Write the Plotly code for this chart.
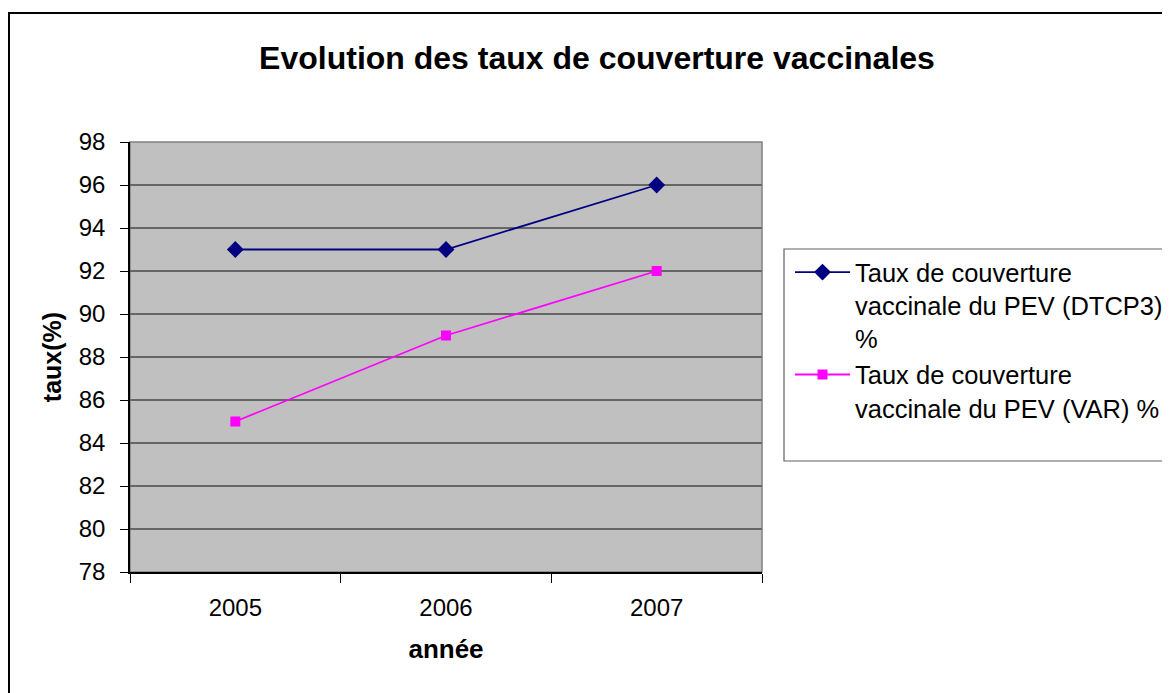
import plotly.graph_objects as go

# chart data
years = ["2005", "2006", "2007"]
dtcp3 = [93, 93, 96]
var = [85, 89, 92]
series_names = [
    "Taux de couverture<br>vaccinale du PEV (DTCP3)<br>%",
    "Taux de couverture<br>vaccinale du PEV (VAR) %",
]
y_ticks = list(range(78, 100, 2))

FONT = "Liberation Sans, Arial, sans-serif"

# the page body has an 8px margin, so work in window pixels minus that
OFF = 8
W, H = 1170 - OFF, 693 - OFF
L, R, T, B = 130 - OFF, 762 - OFF, 142 - OFF, 572 - OFF


def px_x(x):
    return (x - OFF - L) / (R - L)


def px_y(y):
    return (B - (y - OFF)) / (B - T)


fig = go.Figure()

fig.add_trace(go.Scatter(
    x=years, y=dtcp3, mode="lines+markers", name=series_names[0],
    line=dict(color="#000080", width=1.8),
    marker=dict(symbol="diamond", size=13, color="#000080"),
))
fig.add_trace(go.Scatter(
    x=years, y=var, mode="lines+markers", name=series_names[1],
    line=dict(color="#FF00FF", width=1.8),
    marker=dict(symbol="square", size=10, color="#FF00FF"),
))

shapes = [
    # plot area background and border
    dict(type="rect", xref="paper", yref="paper", x0=0, x1=1, y0=0, y1=1,
         fillcolor="#C0C0C0", line=dict(color="#808080", width=1.5), layer="below"),
    # outer chart frame
    dict(type="rect", xref="paper", yref="paper",
         x0=px_x(9), x1=px_x(1200), y0=px_y(13), y1=px_y(720),
         line=dict(color="black", width=2)),
    # legend frame
    dict(type="rect", xref="paper", yref="paper",
         x0=px_x(784), x1=px_x(1200), y0=px_y(249), y1=px_y(461),
         line=dict(color="#606060", width=1.2)),
]

fig.update_layout(
    width=W, height=H,
    margin=dict(l=L, r=W - R, t=T, b=H - B, autoexpand=False),
    paper_bgcolor="white",
    plot_bgcolor="rgba(0,0,0,0)",
    font=dict(family=FONT, size=24, color="black"),
    title=dict(
        text="<b>Evolution des taux de couverture vaccinales</b>",
        x=(597 - OFF) / W, xanchor="center", y=1 - (58 - OFF) / H, yanchor="middle",
        font=dict(size=32, family=FONT, color="black"),
    ),
    xaxis=dict(
        type="category", range=[-0.5, 2.5], tickson="boundaries",
        ticks="outside", ticklen=9, tickcolor="black", tickwidth=1.2,
        showline=True, linecolor="black", linewidth=1.5,
        showgrid=False, ticklabelstandoff=13,
        title=dict(text="<b>année</b>", font=dict(size=26), standoff=20),
    ),
    yaxis=dict(
        range=[78, 98], tickvals=y_ticks,
        ticks="outside", ticklen=8, tickcolor="black", tickwidth=1.2,
        showline=True, linecolor="black", linewidth=1.5,
        showgrid=True, gridcolor="#666666", gridwidth=1.5,
        zeroline=False, ticklabelstandoff=10,
        title=dict(text="<b>taux(%)</b>", font=dict(size=25), standoff=10),
    ),
    legend=dict(
        x=px_x(790), y=px_y(249), xanchor="left", yanchor="top",
        bgcolor="rgba(0,0,0,0)", borderwidth=0,
        font=dict(size=25.5, family=FONT, color="black"),
        valign="top", itemwidth=55, tracegroupgap=12,
    ),
    shapes=shapes,
    showlegend=True,
)

fig.write_html("out.html")
